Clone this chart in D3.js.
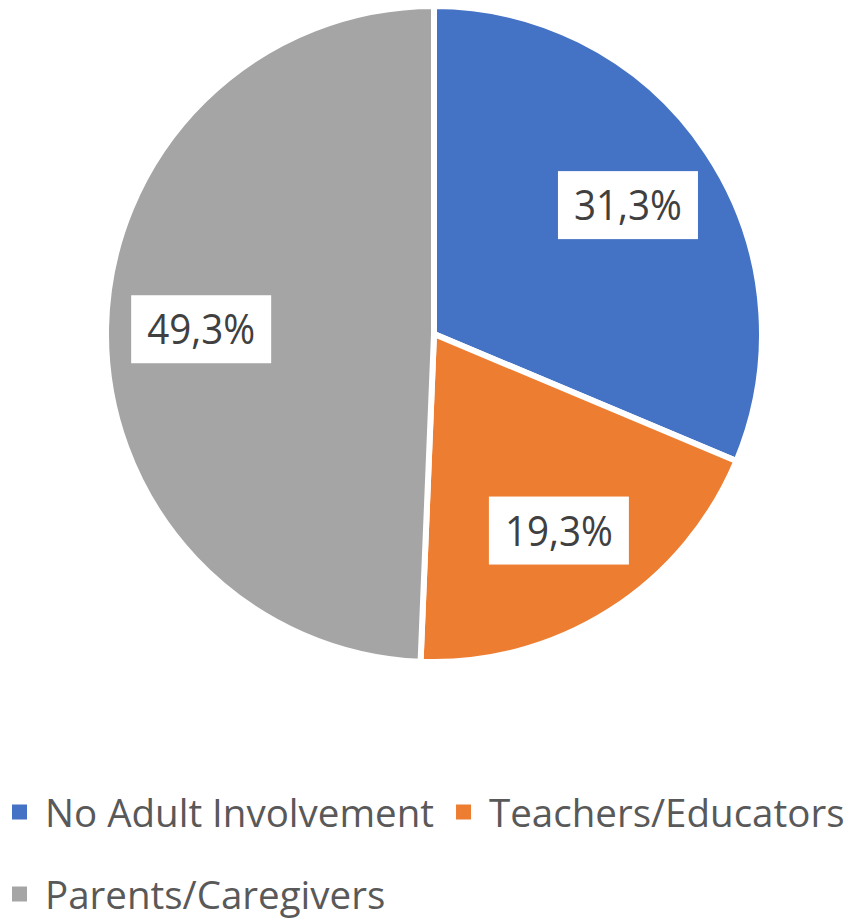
<!DOCTYPE html>
<html>
<head>
<meta charset="utf-8">
<script src="https://cdn.jsdelivr.net/npm/d3@7"></script>
<style>
  body { margin: 0; background: #fff; }
  svg { display: block; }
</style>
</head>
<body>
<div id="chart"></div>
<script>
const categories = ["No Adult Involvement", "Teachers/Educators", "Parents/Caregivers"];
const values = [31.3, 19.3, 49.3];
const labels = ["31,3%", "19,3%", "49,3%"];
const colors = ["#4472C4", "#ED7D31", "#A5A5A5"];

const width = 851, height = 923;
const cx = 434, cy = 334, radius = 328;

const svg = d3.select("#chart")
  .append("svg")
  .attr("width", width)
  .attr("height", height);

const data = categories.map((c, i) => ({ name: c, value: values[i], label: labels[i], color: colors[i] }));

const pie = d3.pie()
  .value(d => d.value)
  .sort(null);

const arc = d3.arc()
  .innerRadius(0)
  .outerRadius(radius);

const labelArc = d3.arc()
  .innerRadius(radius * 0.71)
  .outerRadius(radius * 0.71);

const g = svg.append("g")
  .attr("transform", `translate(${cx},${cy})`);

const arcs = pie(data);

g.selectAll("path")
  .data(arcs)
  .enter().append("path")
  .attr("d", arc)
  .attr("fill", d => d.data.color)
  .attr("stroke", "#fff")
  .attr("stroke-width", 6)
  .attr("stroke-linejoin", "round");

const lbl = g.selectAll("g.lbl")
  .data(arcs)
  .enter().append("g")
  .attr("class", "lbl")
  .attr("transform", d => `translate(${labelArc.centroid(d)})`);

lbl.append("rect")
  .attr("x", -70)
  .attr("y", -34)
  .attr("width", 140)
  .attr("height", 68)
  .attr("fill", "#fff");

lbl.append("text")
  .attr("text-anchor", "middle")
  .attr("y", 15)
  .attr("font-family", "'Open Sans', sans-serif")
  .attr("font-size", 42)
  .attr("fill", "#404040")
  .attr("textLength", 108)
  .attr("lengthAdjust", "spacingAndGlyphs")
  .text(d => d.data.label);

// legend, flowed left to right and wrapped
const legend = svg.append("g");
const rowY = [812, 894];
let lx = 12, row = 0;
data.forEach(d => {
  const item = legend.append("g");
  const t = item.append("text")
    .attr("font-family", "'Open Sans', sans-serif")
    .attr("font-size", 38.5)
    .attr("fill", "#595959")
    .attr("dominant-baseline", "central")
    .text(d.name);
  const w = t.node().getComputedTextLength();
  const itemW = 33 + w;
  if (lx + itemW > width - 5) { row++; lx = 12; }
  item.append("rect")
    .attr("x", lx)
    .attr("y", rowY[row] - 7.5)
    .attr("width", 15)
    .attr("height", 15)
    .attr("fill", d.color);
  t.attr("x", lx + 33).attr("y", rowY[row]);
  lx += itemW + 22;
});
</script>
</body>
</html>
